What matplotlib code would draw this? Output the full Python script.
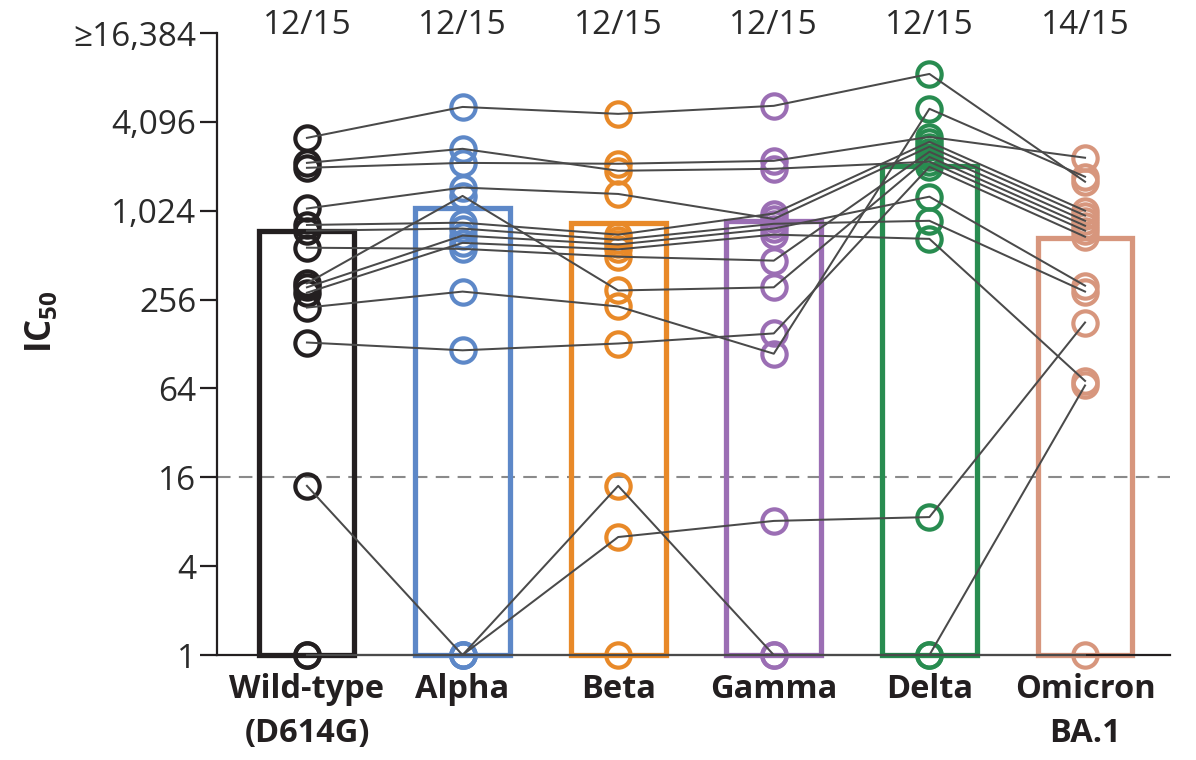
import matplotlib
matplotlib.use("Agg")
import matplotlib.pyplot as plt
from matplotlib.transforms import blended_transform_factory

# ---- data ----
variants = ["Wild-type\n(D614G)", "Alpha", "Beta", "Gamma", "Delta", "Omicron\nBA.1"]
fractions = ["12/15", "12/15", "12/15", "12/15", "12/15", "14/15"]
bar_values = [750, 1075, 850, 875, 2060, 672]

# 15 subjects, same order in every variant
wild_type = [3190, 2160, 2000, 1060, 820, 750, 575, 330, 310, 285, 226, 131, 14, 1, 1]
alpha     = [5170, 2690, 2160, 1470, 850, 775, 565, 1290, 695, 620, 290, 116, 1, 1, 1]
beta      = [4640, 1910, 2130, 1330, 705, 650, 500, 295, 605, 560, 230, 129, 14, 6.3, 1]
gamma     = [5260, 1970, 2230, 900, 980, 835, 470, 310, 775, 705, 110, 151, 1, 8.1, 1]
delta     = [8650, 2200, 3240, 2780, 3000, 875, 2570, 2370, 1275, 660, 5020, 2030, 1, 8.6, 1]
omicron   = [1610, 750, 2340, 950, 1024, 290, 875, 810, 318, 72, 1740, 683, 67, 179, 1]

colors = ["#231f20", "#5d88c8", "#e88928", "#9b6eb4", "#288c50", "#d7967d"]
yticks = [1, 4, 16, 64, 256, 1024, 4096, 16384]
ytick_labels = ["1", "4", "16", "64", "256", "1,024", "4,096", "\u226516,384"]
threshold = 16

series = [wild_type, alpha, beta, gamma, delta, omicron]

plt.rcParams['mathtext.fontset'] = 'custom'
plt.rcParams['mathtext.bf'] = 'Open Sans:bold'
plt.rcParams['mathtext.rm'] = 'Open Sans'

fig = plt.figure(figsize=(11.96, 7.6), dpi=100)
ax = fig.add_axes([217/1196, 1-655/760, (1170-217)/1196, (655-33)/760])
ax.set_yscale('log', base=2)
ax.set_ylim(1, 16384)
ax.set_xlim(-0.578, 5.546)

x = list(range(len(variants)))

# bars
ax.bar(x, bar_values, width=0.61, bottom=1, facecolor='none',
       edgecolor=colors, linewidth=3.8, zorder=1, clip_on=False)

# threshold
ax.axhline(threshold, color='#8a8a8a', linestyle=(0, (6.5, 4)), linewidth=1.5, zorder=0.5)

# points
for i, vals in enumerate(series):
    ax.plot([i]*len(vals), vals, linestyle='none', marker='o', markersize=17.5,
            markerfacecolor='none', markeredgecolor=colors[i], markeredgewidth=3.0,
            zorder=2, clip_on=False)

# subject lines
n = len(wild_type)
for s in range(n):
    ax.plot(x, [series[i][s] for i in range(len(series))], color='#4a4a4a',
            linewidth=1.45, zorder=3, clip_on=False)

# axes styling
for sp in ['top', 'right']:
    ax.spines[sp].set_visible(False)
ax.spines['left'].set_linewidth(1.6)
ax.spines['bottom'].set_linewidth(1.6)
ax.spines['left'].set_color('#231f20')
ax.spines['bottom'].set_color('#231f20')

ax.set_yticks(yticks)
ax.set_yticklabels(ytick_labels, fontsize=24, family='Open Sans', color='#2a2a2a')
ax.minorticks_off()
ax.tick_params(axis='y', length=12, width=1.6, pad=3, color='#231f20')
ax.set_xticks(x)
ax.set_xticklabels(variants, fontsize=23.5, family='Open Sans', fontweight='bold',
                   color='#231f20', linespacing=1.42)
ax.tick_params(axis='x', length=0, pad=13)

# fractions at top
trans = blended_transform_factory(ax.transData, ax.transAxes)
for i, f in enumerate(fractions):
    ax.text(i, 1.012, f, transform=trans, ha='center', va='center', fontsize=24,
            family='Open Sans', color='#2a2a2a')

fig.text(42/1196, 1-322/760, r'IC$_{\mathbf{50}}$', rotation=90, ha='center', va='center',
         fontsize=25, family='Open Sans', fontweight='bold', color='#231f20')

fig.savefig('out.png', dpi=100)
